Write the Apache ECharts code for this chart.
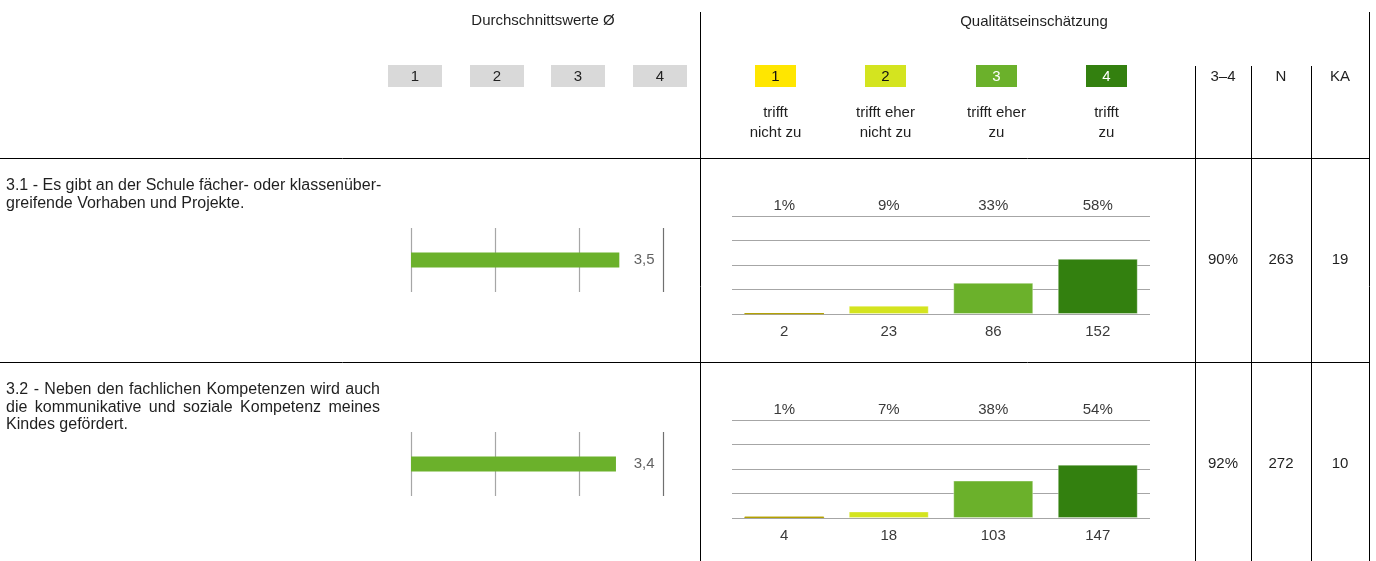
<!DOCTYPE html>
<html><head><meta charset="utf-8">
<script src="https://cdn.jsdelivr.net/npm/echarts@6/dist/echarts.min.js"></script>
<style>html,body{margin:0;padding:0;background:#fff}#c{width:1376px;height:561px}</style>
</head><body><div id="c"></div>
<script>
// ---- data ----
const questions = [
  ["3.1 - Es gibt an der Schule fächer- oder klassenüber-", "greifende Vorhaben und Projekte."],
  ["3.2 - Neben den fachlichen Kompetenzen wird auch", "die kommunikative und soziale Kompetenz meines", "Kindes gefördert."]
];
const meanTitle = 'Durchschnittswerte Ø';
const distTitle = 'Qualitätseinschätzung';
const meanTicks = ['1', '2', '3', '4'];
const scaleTicks = ['1', '2', '3', '4'];
const scaleLabels = [['trifft', 'nicht zu'], ['trifft eher', 'nicht zu'], ['trifft eher', 'zu'], ['trifft', 'zu']];
const colHeaders = ['3–4', 'N', 'KA'];
const meanValues = [3.48, 3.44];
const meanLabels = ['3,5', '3,4'];
const counts1 = [2, 23, 86, 152];
const counts2 = [4, 18, 103, 147];
const percents1 = ['1%', '9%', '33%', '58%'];
const percents2 = ['1%', '7%', '38%', '54%'];
const share34 = ['90%', '92%'];
const nValues = [263, 272];
const kaValues = [19, 10];

// ---- styling / layout ----
const FONT = '"Liberation Sans", Arial, Helvetica, sans-serif';
const TXT = '#1f1f1f';
const LBL = '#3a3a3a';
const scaleColors = ['#ffe600', '#d4e41f', '#6bb12b', '#33800f'];
const scaleTextColors = ['#111', '#111', '#fff', '#fff'];
const rowTops = [158, 362];
const counts = [counts1, counts2];
const percents = [percents1, percents2];

const chart = echarts.init(document.getElementById('c'), null, {renderer: 'canvas'});
const graphic = [];
function line(x1, y1, x2, y2, color, w) {
  graphic.push({type: 'line', shape: {x1, y1, x2, y2}, style: {stroke: color || '#000', lineWidth: w || 1}, silent: true});
}
function text(t, x, y, opts) {
  graphic.push({type: 'text', x, y, style: Object.assign({text: t, font: '15px ' + FONT, fill: TXT, align: 'center', verticalAlign: 'middle'}, opts || {}), silent: true});
}

// table lines
line(0, 158.5, 1370, 158.5);
line(0, 362.5, 1370, 362.5);
line(700.5, 12, 700.5, 561);
line(1369.5, 12, 1369.5, 561);
[1195.5, 1251.5, 1311.5].forEach(x => line(x, 66, x, 561));

// headers
text(meanTitle, 543, 21);
text(distTitle, 1034, 22);
const greyX = [388, 470, 551, 633];
meanTicks.forEach((t, i) => {
  graphic.push({type: 'rect', shape: {x: greyX[i], y: 65, width: 54, height: 22}, style: {fill: '#d9d9d9'}, silent: true});
  text(t, greyX[i] + 27, 76.5, {fill: '#222'});
});
const colX = [755, 865, 976, 1086];
scaleTicks.forEach((t, i) => {
  graphic.push({type: 'rect', shape: {x: colX[i], y: 65, width: 41, height: 22}, style: {fill: scaleColors[i]}, silent: true});
  text(t, colX[i] + 20.5, 76.5, {fill: scaleTextColors[i]});
  text(scaleLabels[i][0], colX[i] + 20.5, 113);
  text(scaleLabels[i][1], colX[i] + 20.5, 132.5);
});
const colCx = [1223, 1281, 1340];
colHeaders.forEach((t, i) => text(t, colCx[i], 77));

// question texts (justified)
const ctx = document.createElement('canvas').getContext('2d');
const QFONT = '16px ' + FONT;
ctx.font = QFONT;
const qLeft = 6, qRight = 380;
questions.forEach((lines, r) => {
  lines.forEach((ln, k) => {
    const y = rowTops[r] + 28 + k * 17.5;
    const words = ln.split(' ');
    const widths = words.map(w => ctx.measureText(w).width);
    const total = widths.reduce((a, b) => a + b, 0);
    const space = ctx.measureText(' ').width;
    const last = k === lines.length - 1;
    const gap = (qRight - qLeft - total) / (words.length - 1);
    if (last || gap <= space) {
      text(ln, qLeft, y, {align: 'left', font: QFONT});
    } else {
      let x = qLeft;
      words.forEach((w, j) => { text(w, x, y, {align: 'left', font: QFONT}); x += widths[j] + gap; });
    }
  });
});

// right columns values
rowTops.forEach((top, r) => {
  const cy = top + 102;
  text(share34[r], colCx[0], cy);
  text(String(nValues[r]), colCx[1], cy);
  text(String(kaValues[r]), colCx[2], cy);
});

// ---- grids/axes/series ----
const grid = [], xAxis = [], yAxis = [], series = [];
rowTops.forEach((top, r) => {
  // mean chart grid
  grid.push({left: 411, width: 252, top: top + 70, height: 64});
  const gi = grid.length - 1;
  xAxis.push({gridIndex: gi, type: 'value', min: 1, max: 4, interval: 1,
    axisLine: {show: false}, axisTick: {show: false}, axisLabel: {show: false},
    splitLine: {show: true, lineStyle: {color: ['#a6a6a6', '#a6a6a6', '#a6a6a6', '#707070'], width: 1.2}}});
  yAxis.push({gridIndex: gi, type: 'category', data: [questions[r][0]],
    axisLine: {show: false}, axisTick: {show: false}, axisLabel: {show: false}, splitLine: {show: false}});
  const xi = xAxis.length - 1, yi = yAxis.length - 1;
  series.push({type: 'bar', xAxisIndex: xi, yAxisIndex: yi, data: [meanValues[r]], barWidth: 15,
    itemStyle: {color: '#6bb12b'}, clip: true, silent: true});
  series.push({type: 'scatter', xAxisIndex: xi, yAxisIndex: yi, data: [[4, 0]], symbolSize: 1,
    itemStyle: {color: 'rgba(0,0,0,0)'}, silent: true,
    label: {show: true, position: 'left', distance: 8, formatter: () => meanLabels[r],
      fontFamily: FONT, fontSize: 15, color: LBL}});
});
rowTops.forEach((top, r) => {
  grid.push({left: 732, width: 418, top: top + 58, height: 98});
  const gi = grid.length - 1;
  xAxis.push({gridIndex: gi, type: 'category', data: scaleTicks, position: 'bottom',
    axisLine: {show: false}, axisTick: {show: false}, splitLine: {show: false},
    axisLabel: {margin: 10, formatter: (v, i) => String(counts[r][i]), fontFamily: FONT, fontSize: 15, color: LBL}});
  const xi = xAxis.length - 1;
  xAxis.push({gridIndex: gi, type: 'category', data: scaleTicks, position: 'top',
    axisLine: {show: false}, axisTick: {show: false}, splitLine: {show: false},
    axisLabel: {margin: 3, formatter: (v, i) => percents[r][i], fontFamily: FONT, fontSize: 15, color: LBL}});
  yAxis.push({gridIndex: gi, type: 'value', min: 0, max: 270, interval: 67.5,
    axisLine: {show: false}, axisTick: {show: false}, axisLabel: {show: false},
    splitLine: {show: true, lineStyle: {color: '#a6a6a6', width: 1.2}}});
  const yi = yAxis.length - 1;
  series.push({type: 'bar', xAxisIndex: xi, yAxisIndex: yi, barWidth: 80, silent: true,
    data: counts[r].map((v, i) => ({value: v, itemStyle: {color: scaleColors[i], borderColor: i === 0 ? '#b3a000' : 'rgba(255,255,255,0.35)', borderWidth: 1}}))});
});

chart.setOption({
  animation: false,
  backgroundColor: '#fff',
  textStyle: {fontFamily: FONT},
  grid, xAxis, yAxis, series, graphic
});
</script>
</body></html>
